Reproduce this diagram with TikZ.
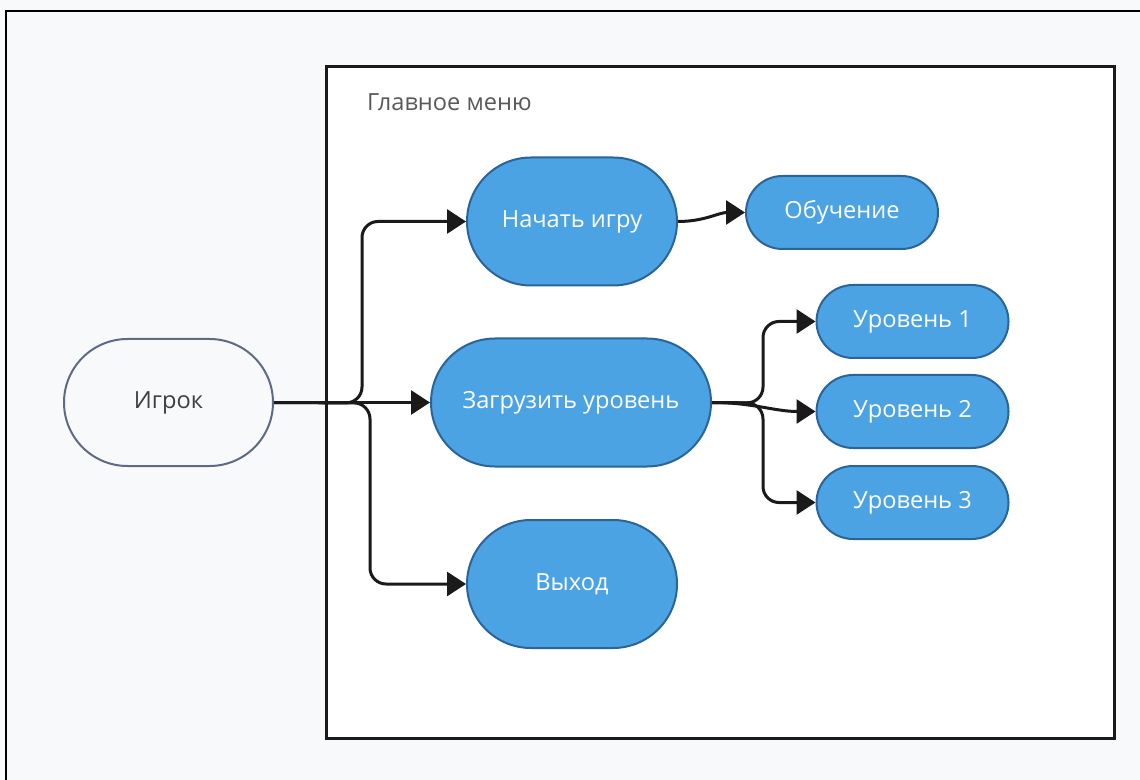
\documentclass[tikz,border=0pt]{standalone}
\usepackage{fontspec}
\setmainfont{Open Sans}
\usetikzlibrary{shapes.misc,arrows.meta}

\definecolor{pagebg}{HTML}{F8F9FB}
\definecolor{menublue}{HTML}{4BA3E3}
\definecolor{menuedge}{HTML}{2A6499}
\definecolor{actoredge}{HTML}{5E6A84}
\definecolor{linkcol}{HTML}{1A1A1A}
\definecolor{titlegray}{HTML}{595959}

\tikzset{
    pill/.style = {rounded rectangle, draw = menuedge, fill = menublue, line width = 1pt,
                   text = white, font = \fontsize{11.8}{14}\selectfont, inner sep = 0pt},
    bigpill/.style = {pill, minimum height = 64pt},
    smallpill/.style = {pill, minimum height = 36.5pt, minimum width = 96pt},
    link/.style = {draw = linkcol, line width = 1.5pt, rounded corners = 8pt,
                   -{Triangle[length = 9.5pt, width = 12pt]}}
}

\begin{document}
\begin{tikzpicture}[x = 0.5pt, y = -0.5pt]
    \useasboundingbox (0,0) rectangle (1140,780);
    % page and frames
    \fill[pagebg] (0,0) rectangle (1140,780);
    \draw[black, line width = 0.6pt] (6,790) -- (6,11) -- (1150,11);
    \draw[linkcol, fill = white, line width = 1.5pt] (326,67) rectangle (1114,738);
    \node[anchor = west, text = titlegray, font = \fontsize{11.8}{14}\selectfont] (title) at (360,102) {Главное меню};

    % actor
    \node[pill, draw = actoredge, fill = pagebg, text = black!75,
          minimum width = 104.5pt, minimum height = 63.5pt] (player) at (168.5,402.5) {Игрок};

    % menu items
    \node[bigpill, minimum width = 105pt] (start) at (572,221.5) {Начать игру};
    \node[bigpill, minimum width = 140pt] (load) at (571,402.5) {Загрузить уровень};
    \node[bigpill, minimum width = 105pt] (quit) at (572,584) {Выход};
    \node[smallpill] (tutorial) at (842,212.5) {Обучение};
    \node[smallpill] (level1) at (912.5,321.5) {Уровень 1};
    \node[smallpill] (level2) at (912.5,411.5) {Уровень 2};
    \node[smallpill] (level3) at (912.5,502.5) {Уровень 3};

    % forks
    \coordinate (forkup) at (362,403);
    \coordinate (forkdown) at (370,403);
    \coordinate (forklvl) at (763,403);

    % links
    \draw[link] (player.east) -- (forkup) |- (start.west);
    \draw[link] (player.east) -- (load.west);
    \draw[link] (player.east) -- (forkdown) |- (quit.west);
    \draw[link] (start.east) to[out = 0, in = 180] (tutorial.west);
    \draw[link] (load.east) -- (forklvl) |- (level1.west);
    \draw[link] (load.east) to[out = 0, in = 180] (level2.west);
    \draw[link] (load.east) -- (forklvl) |- (level3.west);
\end{tikzpicture}
\end{document}
